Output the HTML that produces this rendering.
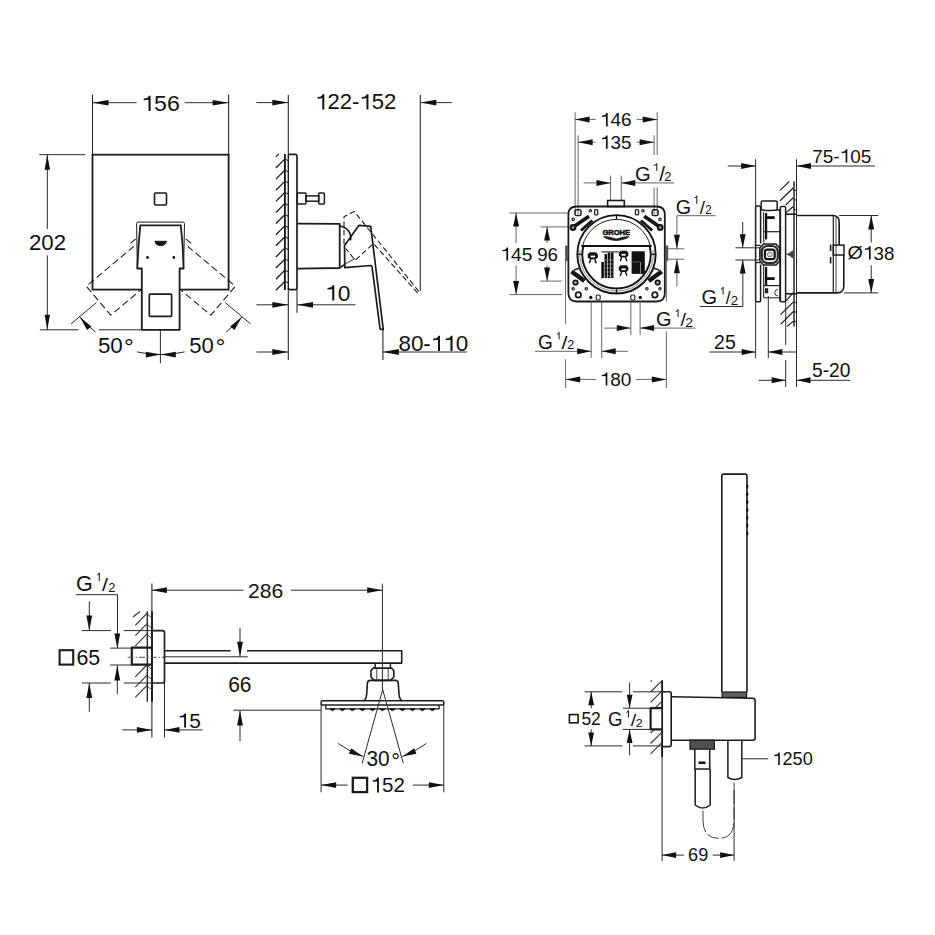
<!DOCTYPE html>
<html><head><meta charset="utf-8"><style>
html,body{margin:0;padding:0;background:#fff;}
svg{display:block;}
text{font-family:"Liberation Sans",sans-serif;}
</style></head><body>
<svg width="935" height="935" viewBox="0 0 935 935">
<rect width="935" height="935" fill="#fff"/>
<line x1="92.5" y1="94.6" x2="92.5" y2="155" stroke="#2a2a2a" stroke-width="1.1"/>
<line x1="228.6" y1="94.6" x2="228.6" y2="155" stroke="#2a2a2a" stroke-width="1.1"/>
<line x1="92.5" y1="102.7" x2="136.5" y2="102.7" stroke="#2a2a2a" stroke-width="1"/>
<line x1="184.5" y1="102.7" x2="228.6" y2="102.7" stroke="#2a2a2a" stroke-width="1"/>
<path d="M92.5 102.7 L108.5 100 L108.5 105.4 Z" fill="#111"/>
<path d="M228.6 102.7 L212.6 105.4 L212.6 100 Z" fill="#111"/>
<path d="M148.52 110.98 L150.6 110.98 L150.6 95.73 L148.93 95.73 L148.12 97.1 L146.5 98.19 L143.7 98.51 L143.7 100.14 L148.52 99.7 Z" fill="#111"/>
<text transform="translate(154.05 110.98) scale(1.067 1)" font-size="21.69" fill="#111">56</text>
<line x1="39.3" y1="154.7" x2="85.5" y2="154.7" stroke="#2a2a2a" stroke-width="1"/>
<line x1="39.8" y1="329.8" x2="78.3" y2="329.8" stroke="#2a2a2a" stroke-width="1"/>
<line x1="98.8" y1="329.8" x2="141.9" y2="329.8" stroke="#2a2a2a" stroke-width="1"/>
<line x1="47.3" y1="154.7" x2="47.3" y2="229" stroke="#2a2a2a" stroke-width="1"/>
<line x1="47.3" y1="255.3" x2="47.3" y2="329.8" stroke="#2a2a2a" stroke-width="1"/>
<path d="M47.3 154.7 L50 169.7 L44.6 169.7 Z" fill="#111"/>
<path d="M47.3 329.8 L44.6 314.8 L50 314.8 Z" fill="#111"/>
<text transform="translate(28.99 250.18) scale(1.025 1)" font-size="21.69" fill="#111">202</text>
<rect x="92.5" y="154.7" width="136.1" height="134.9" fill="#fff" stroke="#1c1c1c" stroke-width="1.8"/>
<rect x="154.5" y="193" width="12" height="12" rx="1" fill="none" stroke="#1c1c1c" stroke-width="1.6"/>
<path d="M135.75 238.81 L130.45 243.39 L133.34 246.84 L86.38 286.24 L110.68 315.2 L157.64 275.79" fill="none" stroke="#1c1c1c" stroke-width="1.1" stroke-linejoin="round" stroke-dasharray="7 3.5"/>
<path d="M185.85 238.81 L191.15 243.39 L188.26 246.84 L235.22 286.24 L210.92 315.2 L163.96 275.79" fill="none" stroke="#1c1c1c" stroke-width="1.1" stroke-linejoin="round" stroke-dasharray="7 3.5"/>
<path d="M137.3 268.5 L136.6 223.6 Q136.6 222.1 138.1 222.1 L183 222.1 Q184.5 222.1 184.5 223.6 L183.6 268.5" fill="#fff" stroke="#1c1c1c" stroke-width="1" stroke-linejoin="round"/>
<path d="M141.8 329.8 L141.8 268.5 L137.3 268.5 L138.6 245 L140.3 225.3 L180.8 225.3 L182.6 245 L183.6 268.5 L179.6 268.5 L179.6 329.8 Z" fill="#fff" stroke="#1c1c1c" stroke-width="1.8" stroke-linejoin="round"/>
<path d="M155 241.3 L166.4 241.3 Q165.8 245.6 160.7 245.6 Q155.6 245.6 155 241.3 Z" fill="#111" stroke="#1c1c1c" stroke-width="1" stroke-linejoin="round"/>
<circle cx="147.5" cy="257.5" r="1.4" fill="#111"/><circle cx="173.8" cy="257.5" r="1.4" fill="#111"/>
<rect x="149.3" y="294.2" width="22.3" height="22.2" rx="0.8" fill="none" stroke="#1c1c1c" stroke-width="1.7"/>
<line x1="96.45" y1="302.59" x2="71.17" y2="323.81" stroke="#2a2a2a" stroke-width="1"/>
<line x1="225.15" y1="302.59" x2="250.43" y2="323.81" stroke="#2a2a2a" stroke-width="1"/>
<path d="M79.6 316.74 A106 106 0 0 0 95.54 332.13" fill="none" stroke="#2a2a2a" stroke-width="1"/>
<path d="M136.96 351.88 A106 106 0 0 0 160.8 354.6" fill="none" stroke="#2a2a2a" stroke-width="1"/>
<path d="M79.6 316.74 L91.39 326.43 L87.1 330.03 Z" fill="#111"/>
<path d="M160.8 354.6 L145.8 357.4 L145.8 351.8 Z" fill="#111"/>
<path d="M242 316.74 A106 106 0 0 1 226.06 332.13" fill="none" stroke="#2a2a2a" stroke-width="1"/>
<path d="M184.64 351.88 A106 106 0 0 1 160.8 354.6" fill="none" stroke="#2a2a2a" stroke-width="1"/>
<path d="M242 316.74 L234.5 330.03 L230.21 326.43 Z" fill="#111"/>
<path d="M160.8 354.6 L175.8 351.8 L175.8 357.4 Z" fill="#111"/>
<line x1="160.4" y1="329.8" x2="160.4" y2="363.2" stroke="#2a2a2a" stroke-width="1"/>
<text transform="translate(97.9 353.48) scale(1.014 1)" font-size="22.11" fill="#111">50</text>
<text transform="translate(124.12 355.05) scale(1.030 1)" font-size="23.93" fill="#111">°</text>
<text x="189.22" y="353.48" font-size="22.11" fill="#111">50</text>
<text transform="translate(215.5 355.05) scale(1.045 1)" font-size="23.93" fill="#111">°</text>
<line x1="288.3" y1="94.9" x2="288.3" y2="359.9" stroke="#2a2a2a" stroke-width="1.1"/>
<line x1="420.3" y1="94.9" x2="420.3" y2="291" stroke="#2a2a2a" stroke-width="1.1"/>
<line x1="256.4" y1="102.6" x2="288.3" y2="102.6" stroke="#2a2a2a" stroke-width="1"/>
<path d="M288.3 102.6 L272.3 105.4 L272.3 99.8 Z" fill="#111"/>
<line x1="420.3" y1="102.6" x2="451.8" y2="102.6" stroke="#2a2a2a" stroke-width="1"/>
<path d="M420.3 102.6 L436.3 99.8 L436.3 105.4 Z" fill="#111"/>
<path d="M322.29 109.48 L324.28 109.48 L324.28 94.23 L322.69 94.23 L321.92 95.6 L320.37 96.69 L317.7 97.01 L317.7 98.64 L322.29 98.2 Z" fill="#111"/>
<text transform="translate(327.57 109.48) scale(1.018 1)" font-size="21.69" fill="#111">22-</text>
<path d="M366.47 109.48 L368.45 109.48 L368.45 94.23 L366.86 94.23 L366.09 95.6 L364.55 96.69 L361.88 97.01 L361.88 98.64 L366.47 98.2 Z" fill="#111"/>
<text transform="translate(371.74 109.48) scale(1.018 1)" font-size="21.69" fill="#111">52</text>
<line x1="284.9" y1="153.9" x2="284.9" y2="290" stroke="#1c1c1c" stroke-width="1.9"/>
<line x1="275.9" y1="290.3" x2="284.5" y2="281.7" stroke="#1c1c1c" stroke-width="1.3"/>
<line x1="285" y1="281.4" x2="288.2" y2="282.9" stroke="#1c1c1c" stroke-width="1"/>
<line x1="275.9" y1="279.18" x2="284.5" y2="270.58" stroke="#1c1c1c" stroke-width="1.3"/>
<line x1="285" y1="270.28" x2="288.2" y2="271.78" stroke="#1c1c1c" stroke-width="1"/>
<line x1="275.9" y1="268.06" x2="284.5" y2="259.46" stroke="#1c1c1c" stroke-width="1.3"/>
<line x1="285" y1="259.16" x2="288.2" y2="260.66" stroke="#1c1c1c" stroke-width="1"/>
<line x1="275.9" y1="256.94" x2="284.5" y2="248.34" stroke="#1c1c1c" stroke-width="1.3"/>
<line x1="285" y1="248.04" x2="288.2" y2="249.54" stroke="#1c1c1c" stroke-width="1"/>
<line x1="275.9" y1="245.82" x2="284.5" y2="237.22" stroke="#1c1c1c" stroke-width="1.3"/>
<line x1="285" y1="236.92" x2="288.2" y2="238.42" stroke="#1c1c1c" stroke-width="1"/>
<line x1="275.9" y1="234.7" x2="284.5" y2="226.1" stroke="#1c1c1c" stroke-width="1.3"/>
<line x1="285" y1="225.8" x2="288.2" y2="227.3" stroke="#1c1c1c" stroke-width="1"/>
<line x1="275.9" y1="223.58" x2="284.5" y2="214.98" stroke="#1c1c1c" stroke-width="1.3"/>
<line x1="285" y1="214.68" x2="288.2" y2="216.18" stroke="#1c1c1c" stroke-width="1"/>
<line x1="275.9" y1="212.46" x2="284.5" y2="203.86" stroke="#1c1c1c" stroke-width="1.3"/>
<line x1="285" y1="203.56" x2="288.2" y2="205.06" stroke="#1c1c1c" stroke-width="1"/>
<line x1="275.9" y1="201.34" x2="284.5" y2="192.74" stroke="#1c1c1c" stroke-width="1.3"/>
<line x1="285" y1="192.44" x2="288.2" y2="193.94" stroke="#1c1c1c" stroke-width="1"/>
<line x1="275.9" y1="190.22" x2="284.5" y2="181.62" stroke="#1c1c1c" stroke-width="1.3"/>
<line x1="285" y1="181.32" x2="288.2" y2="182.82" stroke="#1c1c1c" stroke-width="1"/>
<line x1="275.9" y1="179.1" x2="284.5" y2="170.5" stroke="#1c1c1c" stroke-width="1.3"/>
<line x1="285" y1="170.2" x2="288.2" y2="171.7" stroke="#1c1c1c" stroke-width="1"/>
<line x1="275.9" y1="167.98" x2="284.5" y2="159.38" stroke="#1c1c1c" stroke-width="1.3"/>
<line x1="285" y1="159.08" x2="288.2" y2="160.58" stroke="#1c1c1c" stroke-width="1"/>
<line x1="275.9" y1="156.86" x2="278.86" y2="153.9" stroke="#1c1c1c" stroke-width="1.3"/>
<path d="M288.4 154.4 L295.3 154.4 Q297 154.4 297 156.1 L297 288 Q297 289.6 295.3 289.6 L290 289.6 Q288.4 289.6 288.4 288" fill="none" stroke="#1c1c1c" stroke-width="1.7" stroke-linejoin="round"/>
<line x1="288.4" y1="154.4" x2="288.4" y2="289.6" stroke="#1c1c1c" stroke-width="1.2"/>
<rect x="297.3" y="193.1" width="8.7" height="10.8" rx="0.8" fill="none" stroke="#1c1c1c" stroke-width="1.5"/>
<rect x="306" y="195.9" width="12.7" height="5.3" rx="0" fill="none" stroke="#1c1c1c" stroke-width="1.5"/>
<rect x="318.7" y="193.1" width="5.7" height="10.8" rx="0.8" fill="none" stroke="#1c1c1c" stroke-width="1.5"/>
<path d="M297.3 223.6 L339.7 223.9 L339.7 268 L297.3 268.6" fill="none" stroke="#1c1c1c" stroke-width="1.8" stroke-linejoin="round"/>
<path d="M344 244 L344 216.7 L354.2 211.4 L419.5 292.2 L417.5 292.8 L373.4 243.5 L355.2 260.3 L345.8 248.5" fill="none" stroke="#1c1c1c" stroke-width="1.1" stroke-linejoin="round" stroke-dasharray="5.5 3"/>
<line x1="340.5" y1="266.5" x2="355.2" y2="258.5" stroke="#1c1c1c" stroke-width="0.9"/>
<path d="M339.7 225.8 Q352 229 350.6 240.5" fill="none" stroke="#1c1c1c" stroke-width="1.6" stroke-linejoin="round"/>
<path d="M344.5 245.6 L359 225.3 L370.7 226.4 L383.3 329.7 L380.1 329.1 L372.1 267.1 L371 265.5 L344.8 267.6 Z" fill="none" stroke="#1c1c1c" stroke-width="1.7" stroke-linejoin="round"/>
<line x1="339.7" y1="268" x2="344.6" y2="265" stroke="#1c1c1c" stroke-width="1.3"/>
<line x1="256.4" y1="304.8" x2="288.3" y2="304.8" stroke="#2a2a2a" stroke-width="1"/>
<path d="M288.3 304.8 L272.3 307.7 L272.3 301.9 Z" fill="#111"/>
<line x1="297" y1="289.6" x2="297" y2="312.7" stroke="#2a2a2a" stroke-width="1.1"/>
<line x1="297" y1="304.8" x2="355.5" y2="304.8" stroke="#2a2a2a" stroke-width="1"/>
<path d="M297 304.8 L313 301.9 L313 307.7 Z" fill="#111"/>
<path d="M332.24 300.58 L334.29 300.58 L334.29 285.13 L332.65 285.13 L331.85 286.52 L330.26 287.62 L327.5 287.95 L327.5 289.59 L332.24 289.15 Z" fill="#111"/>
<text transform="translate(337.68 300.58) scale(1.037 1)" font-size="21.97" fill="#111">0</text>
<line x1="256.4" y1="352" x2="288.3" y2="352" stroke="#2a2a2a" stroke-width="1"/>
<path d="M288.3 352 L272.3 354.9 L272.3 349.1 Z" fill="#111"/>
<line x1="382.9" y1="330" x2="382.9" y2="359.9" stroke="#2a2a2a" stroke-width="1.1"/>
<line x1="382.9" y1="352" x2="466.6" y2="352" stroke="#2a2a2a" stroke-width="1"/>
<path d="M382.9 352 L398.9 349.1 L398.9 354.9 Z" fill="#111"/>
<text transform="translate(398.39 350.98) scale(1.043 1)" font-size="21.55" fill="#111">80-</text>
<path d="M437.98 350.98 L440 350.98 L440 335.84 L438.39 335.84 L437.6 337.19 L436.03 338.27 L433.31 338.59 L433.31 340.21 L437.98 339.78 Z" fill="#111"/>
<path d="M450.47 350.98 L452.5 350.98 L452.5 335.84 L450.88 335.84 L450.09 337.19 L448.52 338.27 L445.8 338.59 L445.8 340.21 L450.47 339.78 Z" fill="#111"/>
<text transform="translate(455.84 350.98) scale(1.043 1)" font-size="21.55" fill="#111">0</text>
<line x1="575.1" y1="112.2" x2="575.1" y2="214" stroke="#555" stroke-width="0.9"/>
<line x1="578.1" y1="135.3" x2="578.1" y2="214" stroke="#555" stroke-width="0.9"/>
<line x1="657.2" y1="112.2" x2="657.2" y2="155" stroke="#555" stroke-width="0.9"/>
<line x1="657.2" y1="187.5" x2="657.2" y2="214" stroke="#555" stroke-width="0.9"/>
<line x1="654.1" y1="135.3" x2="654.1" y2="155" stroke="#555" stroke-width="0.9"/>
<line x1="654.1" y1="187.5" x2="654.1" y2="214" stroke="#555" stroke-width="0.9"/>
<line x1="575.1" y1="119.4" x2="595.6" y2="119.4" stroke="#555" stroke-width="0.9"/>
<path d="M575.1 119.4 L589.6 116.4 L589.6 122.4 Z" fill="#111"/>
<line x1="636.7" y1="119.4" x2="657.2" y2="119.4" stroke="#555" stroke-width="0.9"/>
<path d="M657.2 119.4 L642.7 122.4 L642.7 116.4 Z" fill="#111"/>
<path d="M605.97 126.41 L607.68 126.41 L607.68 113.04 L606.31 113.04 L605.64 114.24 L604.31 115.19 L602 115.48 L602 116.9 L605.97 116.52 Z" fill="#111"/>
<text x="610.52" y="126.41" font-size="19.01" fill="#111">46</text>
<line x1="578.1" y1="142.2" x2="595.6" y2="142.2" stroke="#555" stroke-width="0.9"/>
<path d="M578.1 142.2 L592.6 139.2 L592.6 145.2 Z" fill="#111"/>
<line x1="636.7" y1="142.2" x2="654.1" y2="142.2" stroke="#555" stroke-width="0.9"/>
<path d="M654.1 142.2 L639.6 145.2 L639.6 139.2 Z" fill="#111"/>
<path d="M605.92 148.81 L607.62 148.81 L607.62 135.44 L606.26 135.44 L605.6 136.64 L604.28 137.59 L602 137.88 L602 139.3 L605.92 138.92 Z" fill="#111"/>
<text transform="translate(610.43 148.81) scale(0.992 1)" font-size="19.01" fill="#111">35</text>
<line x1="610.5" y1="175.6" x2="610.5" y2="200.5" stroke="#555" stroke-width="0.9"/>
<line x1="621.3" y1="175.6" x2="621.3" y2="200.5" stroke="#555" stroke-width="0.9"/>
<line x1="583.6" y1="182.9" x2="610.5" y2="182.9" stroke="#555" stroke-width="0.9"/>
<path d="M610.5 182.9 L596.5 185.9 L596.5 179.9 Z" fill="#111"/>
<line x1="621.3" y1="182.9" x2="674.3" y2="182.9" stroke="#555" stroke-width="0.9"/>
<path d="M621.3 182.9 L635.3 179.9 L635.3 185.9 Z" fill="#111"/>
<text transform="translate(635.09 180.7) scale(0.987 1)" font-size="20.42" fill="#111">G</text>
<path d="M653.7 165.47 Q656.5 164.96 656.8 163.5 L656.8 170.8" fill="none" stroke="#111" stroke-width="1"/>
<text transform="translate(659.2 180.7) scale(1.050 1)" font-size="19.73" fill="#111">/</text>
<text transform="translate(664.36 180.9) scale(0.991 1)" font-size="12.86" fill="#111">2</text>
<line x1="509.4" y1="213" x2="568.4" y2="213" stroke="#555" stroke-width="0.9"/>
<line x1="509.4" y1="294.6" x2="562.4" y2="294.6" stroke="#555" stroke-width="0.9"/>
<line x1="516.1" y1="213" x2="516.1" y2="243" stroke="#555" stroke-width="0.9"/>
<line x1="516.1" y1="265.4" x2="516.1" y2="294.6" stroke="#555" stroke-width="0.9"/>
<path d="M516.1 213 L519.1 226.5 L513.1 226.5 Z" fill="#111"/>
<path d="M516.1 294.6 L513.1 281.1 L519.1 281.1 Z" fill="#111"/>
<line x1="540.5" y1="226.9" x2="568.4" y2="226.9" stroke="#555" stroke-width="0.9"/>
<line x1="540.5" y1="281.1" x2="561.8" y2="281.1" stroke="#555" stroke-width="0.9"/>
<line x1="547.1" y1="226.9" x2="547.1" y2="243" stroke="#555" stroke-width="0.9"/>
<line x1="547.1" y1="265.4" x2="547.1" y2="281.1" stroke="#555" stroke-width="0.9"/>
<path d="M547.1 226.9 L550.1 240.4 L544.1 240.4 Z" fill="#111"/>
<path d="M547.1 281.1 L544.1 267.6 L550.1 267.6 Z" fill="#111"/>
<path d="M506.39 260.61 L508.12 260.61 L508.12 247.56 L506.74 247.56 L506.07 248.73 L504.72 249.66 L502.4 249.94 L502.4 251.33 L506.39 250.96 Z" fill="#111"/>
<text transform="translate(510.98 260.61) scale(1.034 1)" font-size="18.57" fill="#111">45</text>
<text transform="translate(537.16 260.62) scale(1.023 1)" font-size="18.31" fill="#111">96</text>
<line x1="565.6" y1="261" x2="565.6" y2="323.7" stroke="#555" stroke-width="0.9"/>
<line x1="565.6" y1="359.4" x2="565.6" y2="388" stroke="#555" stroke-width="0.9"/>
<line x1="666.4" y1="261" x2="666.4" y2="301.5" stroke="#555" stroke-width="0.9"/>
<line x1="666.4" y1="331.4" x2="666.4" y2="388" stroke="#555" stroke-width="0.9"/>
<line x1="565.6" y1="379.4" x2="596" y2="379.4" stroke="#555" stroke-width="0.9"/>
<path d="M565.6 379.4 L580.1 376.4 L580.1 382.4 Z" fill="#111"/>
<line x1="636" y1="379.4" x2="666.4" y2="379.4" stroke="#555" stroke-width="0.9"/>
<path d="M666.4 379.4 L651.9 382.4 L651.9 376.4 Z" fill="#111"/>
<path d="M605.65 385.61 L607.36 385.61 L607.36 372.54 L605.99 372.54 L605.33 373.72 L604 374.65 L601.7 374.92 L601.7 376.32 L605.65 375.95 Z" fill="#111"/>
<text transform="translate(610.19 385.61) scale(1.022 1)" font-size="18.59" fill="#111">80</text>
<path d="M576.6 206.5 L656.6 206.5 Q664.8 206.5 664.8 214.7 L664.8 293.3 Q664.8 301.5 656.6 301.5 L576.6 301.5 Q568.4 301.5 568.4 293.3 L568.4 214.7 Q568.4 206.5 576.6 206.5 Z" fill="none" stroke="#1c1c1c" stroke-width="1.8" stroke-linejoin="round"/>
<rect x="607.6" y="200.5" width="16.7" height="6" rx="0" fill="none" stroke="#1c1c1c" stroke-width="1.6"/>
<rect x="565.1" y="245.6" width="3.1" height="15.5" fill="#555"/>
<rect x="665" y="245.6" width="3.2" height="15.5" fill="#555"/>
<circle cx="616.5" cy="254.3" r="39.2" fill="none" stroke="#111" stroke-width="1.9"/>
<path d="M582.5 246.1 A35 35 0 0 1 650.5 246.1" fill="none" stroke="#222" stroke-width="1.0"/>
<path d="M583.4 246.1 A34.1 34.1 0 1 0 649.6 246.1" fill="none" stroke="#111" stroke-width="1.9"/>
<path d="M579.95 250 A36.8 36.8 0 1 0 653.05 250" fill="none" stroke="#555" stroke-width="0.7"/>
<line x1="651.3" y1="254.3" x2="655.5" y2="254.3" stroke="#111" stroke-width="1.3"/>
<line x1="616.5" y1="289.1" x2="616.5" y2="293.3" stroke="#111" stroke-width="1.3"/>
<line x1="581.7" y1="254.3" x2="577.5" y2="254.3" stroke="#111" stroke-width="1.3"/>
<line x1="616.5" y1="219.5" x2="616.5" y2="215.3" stroke="#111" stroke-width="1.3"/>
<line x1="581.3" y1="246.1" x2="651.7" y2="246.1" stroke="#111" stroke-width="2"/>
<text transform="translate(602.4 235.4) scale(1.05 1)" font-size="7.2" font-weight="bold" fill="#111" stroke="#111" stroke-width="0.5">GROHE</text>
<path d="M603.5 236.6 Q609 236.6 616.2 239 Q623.4 236.6 629 236.6 Q626 239.6 616.2 240.6 Q606.4 239.6 603.5 236.6 Z" fill="#222" stroke="#1c1c1c" stroke-width="0.8" stroke-linejoin="round"/>
<g transform="translate(588.3 252.3) scale(1.0)"><path d="M1.5 0 L7.5 0 L9.5 2 L9.5 5 L7.5 7 L1.5 7 L-0.5 5 L-0.5 2 Z" fill="#111"/><rect x="2.3" y="3.3" width="4.4" height="1.8" fill="#fff"/><path d="M2.5 7 L1 11 M6.5 7 L8 11" stroke="#111" stroke-width="1.5"/></g>
<g transform="translate(619.3 250.8) scale(0.95)"><path d="M1.5 0 L7.5 0 L9.5 2 L9.5 5 L7.5 7 L1.5 7 L-0.5 5 L-0.5 2 Z" fill="#111"/><rect x="2.3" y="3.3" width="4.4" height="1.8" fill="#fff"/><path d="M2.5 7 L1 11 M6.5 7 L8 11" stroke="#111" stroke-width="1.5"/></g>
<g transform="translate(619.3 265.3) scale(0.95)"><path d="M1.5 0 L7.5 0 L9.5 2 L9.5 5 L7.5 7 L1.5 7 L-0.5 5 L-0.5 2 Z" fill="#111"/><rect x="2.3" y="3.3" width="4.4" height="1.8" fill="#fff"/><path d="M2.5 7 L1 11 M6.5 7 L8 11" stroke="#111" stroke-width="1.5"/></g>
<rect x="601.3" y="262" width="2.6" height="16.1" fill="#111"/>
<rect x="604.5" y="254" width="2.6" height="24.1" fill="#111"/>
<rect x="607.7" y="252.5" width="2.6" height="25.6" fill="#111"/>
<rect x="610.9" y="252.5" width="2.6" height="25.6" fill="#111"/>
<line x1="604.3" y1="260" x2="613.6" y2="260" stroke="#bbb" stroke-width="0.5"/>
<line x1="604.3" y1="264" x2="613.6" y2="264" stroke="#bbb" stroke-width="0.5"/>
<line x1="604.3" y1="268" x2="613.6" y2="268" stroke="#bbb" stroke-width="0.5"/>
<line x1="604.3" y1="272" x2="613.6" y2="272" stroke="#bbb" stroke-width="0.5"/>
<line x1="604.3" y1="276" x2="613.6" y2="276" stroke="#bbb" stroke-width="0.5"/>
<rect x="601.3" y="251.3" width="17.7" height="1.2" fill="#333"/>
<rect x="631.6" y="251.3" width="13.2" height="22.6" fill="#111"/>
<line x1="640.5" y1="262" x2="640.5" y2="273.5" stroke="#aaa" stroke-width="0.8"/>
<line x1="632.5" y1="262" x2="640" y2="262" stroke="#888" stroke-width="0.6"/>
<line x1="572.5" y1="227.5" x2="589" y2="216.2" stroke="#151515" stroke-width="3.6"/>
<line x1="581" y1="230.5" x2="592.3" y2="220.5" stroke="#151515" stroke-width="3"/>
<circle cx="573" cy="227.5" r="2.4" fill="#888" stroke="#151515" stroke-width="2"/>
<circle cx="573.2" cy="219.4" r="1.2" fill="none" stroke="#222" stroke-width="1.2"/>
<rect x="575" y="209.8" width="6" height="5.8" rx="1.6" fill="none" stroke="#222" stroke-width="1.5"/>
<circle cx="590.3" cy="210.8" r="1.2" fill="none" stroke="#222" stroke-width="1.2"/>
<rect x="594.6" y="209.7" width="3.2" height="5.2" rx="1" fill="none" stroke="#222" stroke-width="1.3"/>
<line x1="571.5" y1="271.5" x2="584.5" y2="281" stroke="#151515" stroke-width="4.5"/>
<line x1="574" y1="270" x2="580" y2="268" stroke="#222" stroke-width="1.5"/>
<circle cx="575.5" cy="282.5" r="2.3" fill="#999" stroke="#151515" stroke-width="1.6"/>
<circle cx="573.2" cy="288.8" r="1.2" fill="none" stroke="#222" stroke-width="1.2"/>
<circle cx="586.3" cy="288.8" r="1.2" fill="none" stroke="#222" stroke-width="1.2"/>
<circle cx="578.3" cy="294.9" r="2.7" fill="none" stroke="#1a1a1a" stroke-width="1.8"/>
<line x1="660.7" y1="227.5" x2="644.2" y2="216.2" stroke="#151515" stroke-width="3.6"/>
<line x1="652.2" y1="230.5" x2="640.9" y2="220.5" stroke="#151515" stroke-width="3"/>
<circle cx="660.2" cy="227.5" r="2.4" fill="#888" stroke="#151515" stroke-width="2"/>
<circle cx="660" cy="219.4" r="1.2" fill="none" stroke="#222" stroke-width="1.2"/>
<rect x="652.2" y="209.8" width="6" height="5.8" rx="1.6" fill="none" stroke="#222" stroke-width="1.5"/>
<circle cx="642.9" cy="210.8" r="1.2" fill="none" stroke="#222" stroke-width="1.2"/>
<rect x="635.4" y="209.7" width="3.2" height="5.2" rx="1" fill="none" stroke="#222" stroke-width="1.3"/>
<line x1="661.7" y1="271.5" x2="648.7" y2="281" stroke="#151515" stroke-width="4.5"/>
<line x1="659.2" y1="270" x2="653.2" y2="268" stroke="#222" stroke-width="1.5"/>
<circle cx="657.7" cy="282.5" r="2.3" fill="#999" stroke="#151515" stroke-width="1.6"/>
<circle cx="660" cy="288.8" r="1.2" fill="none" stroke="#222" stroke-width="1.2"/>
<circle cx="646.9" cy="288.8" r="1.2" fill="none" stroke="#222" stroke-width="1.2"/>
<circle cx="654.9" cy="294.9" r="2.7" fill="none" stroke="#1a1a1a" stroke-width="1.8"/>
<circle cx="590.8" cy="297.5" r="1.7" fill="#111"/><circle cx="640.3" cy="297.5" r="1.7" fill="#111"/>
<rect x="596.2" y="295" width="4" height="5" rx="1.2" fill="none" stroke="#222" stroke-width="1.2"/><rect x="630.8" y="295" width="4" height="5" rx="1.2" fill="none" stroke="#222" stroke-width="1.2"/>
<line x1="591.2" y1="301.5" x2="591.2" y2="358" stroke="#555" stroke-width="0.9"/>
<line x1="601.7" y1="301.5" x2="601.7" y2="358" stroke="#555" stroke-width="0.9"/>
<line x1="535" y1="351.3" x2="591.2" y2="351.3" stroke="#555" stroke-width="0.9"/>
<path d="M591.2 351.3 L577.2 354.3 L577.2 348.3 Z" fill="#111"/>
<line x1="601.7" y1="351.3" x2="628" y2="351.3" stroke="#555" stroke-width="0.9"/>
<path d="M601.7 351.3 L615.7 348.3 L615.7 354.3 Z" fill="#111"/>
<text transform="translate(538.05 349.21) scale(0.982 1)" font-size="19.44" fill="#111">G</text>
<path d="M557 334.26 Q558.8 333.78 559.1 332.4 L559.1 339.3" fill="none" stroke="#111" stroke-width="1"/>
<text transform="translate(561.5 349.21) scale(1.117 1)" font-size="19.18" fill="#111">/</text>
<text transform="translate(567.27 349.4) scale(1.008 1)" font-size="12.43" fill="#111">2</text>
<line x1="630.8" y1="301.5" x2="630.8" y2="335" stroke="#555" stroke-width="0.9"/>
<line x1="640.1" y1="301.5" x2="640.1" y2="335" stroke="#555" stroke-width="0.9"/>
<line x1="604" y1="328.1" x2="630.8" y2="328.1" stroke="#555" stroke-width="0.9"/>
<path d="M630.8 328.1 L616.8 331.1 L616.8 325.1 Z" fill="#111"/>
<line x1="640.1" y1="328.1" x2="695.5" y2="328.1" stroke="#555" stroke-width="0.9"/>
<path d="M640.1 328.1 L654.1 325.1 L654.1 331.1 Z" fill="#111"/>
<text transform="translate(656.1 326.3) scale(1.007 1)" font-size="19.86" fill="#111">G</text>
<path d="M675.7 311.52 Q677.8 311 678.1 309.5 L678.1 317" fill="none" stroke="#111" stroke-width="1"/>
<text transform="translate(680.5 326.31) scale(1.024 1)" font-size="19.18" fill="#111">/</text>
<text transform="translate(685.3 326.5) scale(1.186 1)" font-size="11.86" fill="#111">2</text>
<line x1="668.2" y1="248.8" x2="684.3" y2="248.8" stroke="#555" stroke-width="0.9"/>
<line x1="668.2" y1="259.2" x2="684.3" y2="259.2" stroke="#555" stroke-width="0.9"/>
<line x1="676.9" y1="215.7" x2="676.9" y2="248.8" stroke="#555" stroke-width="0.9"/>
<path d="M676.9 248.8 L673.9 234.8 L679.9 234.8 Z" fill="#111"/>
<line x1="676.9" y1="259.2" x2="676.9" y2="286.6" stroke="#555" stroke-width="0.9"/>
<path d="M676.9 259.2 L679.9 273.2 L673.9 273.2 Z" fill="#111"/>
<line x1="676.9" y1="215.7" x2="715.6" y2="215.7" stroke="#555" stroke-width="0.9"/>
<text transform="translate(675.72 213.5) scale(0.992 1)" font-size="19.86" fill="#111">G</text>
<path d="M694.7 197.96 Q696.5 197.4 696.8 195.8 L696.8 203.8" fill="none" stroke="#111" stroke-width="1"/>
<text x="699.8" y="213.51" font-size="18.64" fill="#111">/</text>
<text transform="translate(705.33 213.7) scale(0.930 1)" font-size="12.29" fill="#111">2</text>
<line x1="755.6" y1="159.2" x2="755.6" y2="206" stroke="#2a2a2a" stroke-width="1"/>
<line x1="727.7" y1="166" x2="755.6" y2="166" stroke="#2a2a2a" stroke-width="1"/>
<path d="M755.6 166 L741.1 169 L741.1 163 Z" fill="#111"/>
<line x1="796.5" y1="159.2" x2="796.5" y2="387" stroke="#2a2a2a" stroke-width="1"/>
<line x1="796.5" y1="166" x2="874.9" y2="166" stroke="#2a2a2a" stroke-width="1"/>
<path d="M796.5 166 L811 163 L811 169 Z" fill="#111"/>
<text transform="translate(812.15 162.61) scale(1.005 1)" font-size="18.87" fill="#111">75-</text>
<path d="M845.59 162.61 L847.3 162.61 L847.3 149.34 L845.93 149.34 L845.27 150.53 L843.94 151.48 L841.64 151.76 L841.64 153.17 L845.59 152.8 Z" fill="#111"/>
<text transform="translate(850.13 162.61) scale(1.005 1)" font-size="18.87" fill="#111">05</text>
<line x1="794" y1="181.4" x2="794" y2="326.4" stroke="#333" stroke-width="1.6"/>
<line x1="780" y1="190.4" x2="789.3" y2="181.4" stroke="#1c1c1c" stroke-width="1.2"/>
<line x1="780" y1="200.7" x2="793.4" y2="187.8" stroke="#1c1c1c" stroke-width="1.2"/>
<line x1="785.7" y1="205.2" x2="793.4" y2="197.5" stroke="#1c1c1c" stroke-width="1.2"/>
<line x1="785.7" y1="212.9" x2="793.4" y2="206.5" stroke="#1c1c1c" stroke-width="1.2"/>
<line x1="794" y1="189.8" x2="796.5" y2="190.8" stroke="#1c1c1c" stroke-width="1"/>
<line x1="794" y1="199.4" x2="796.5" y2="200.4" stroke="#1c1c1c" stroke-width="1"/>
<line x1="794" y1="209.2" x2="796.5" y2="210.2" stroke="#1c1c1c" stroke-width="1"/>
<line x1="787.1" y1="326.5" x2="793.4" y2="321.1" stroke="#1c1c1c" stroke-width="1.2"/>
<line x1="780.6" y1="324.3" x2="793.4" y2="311.5" stroke="#1c1c1c" stroke-width="1.2"/>
<line x1="780.6" y1="314.7" x2="793.4" y2="301.9" stroke="#1c1c1c" stroke-width="1.2"/>
<line x1="786" y1="300.8" x2="793.4" y2="292.6" stroke="#1c1c1c" stroke-width="1.2"/>
<line x1="794" y1="311.4" x2="796.5" y2="312.4" stroke="#1c1c1c" stroke-width="1"/>
<line x1="794" y1="321.1" x2="796.5" y2="322.1" stroke="#1c1c1c" stroke-width="1"/>
<line x1="794" y1="301.8" x2="796.5" y2="302.8" stroke="#1c1c1c" stroke-width="1"/>
<path d="M755.6 301.7 L755.6 207.2 Q755.6 206 756.8 206 L759.4 206 Q760.6 206 760.6 207.2 L760.6 243.5" fill="none" stroke="#1c1c1c" stroke-width="1.5" stroke-linejoin="round"/>
<path d="M760.6 264.5 L760.6 300.5 Q760.6 301.7 759.4 301.7 L755.6 301.7" fill="none" stroke="#1c1c1c" stroke-width="1.5" stroke-linejoin="round"/>
<line x1="755.6" y1="245.4" x2="760.6" y2="245.4" stroke="#1c1c1c" stroke-width="1.2"/>
<line x1="755.6" y1="262.6" x2="760.6" y2="262.6" stroke="#1c1c1c" stroke-width="1.2"/>
<path d="M761.2 210 L761.2 202.2 Q761.2 201 762.4 201 L776 201 Q777.2 201 777.2 202.2 L777.2 210" fill="none" stroke="#1c1c1c" stroke-width="1.5" stroke-linejoin="round"/>
<path d="M760.6 209.8 Q770 211.2 780.4 209.8" fill="none" stroke="#1c1c1c" stroke-width="1.4" stroke-linejoin="round"/>
<rect x="780.4" y="206.4" width="5.2" height="95.3" rx="1" fill="none" stroke="#1c1c1c" stroke-width="1.5"/>
<line x1="763.7" y1="212" x2="763.7" y2="242.6" stroke="#1c1c1c" stroke-width="1.1"/>
<line x1="763.7" y1="265.7" x2="763.7" y2="297.8" stroke="#1c1c1c" stroke-width="1.1"/>
<line x1="779.8" y1="210" x2="779.8" y2="301.7" stroke="#1c1c1c" stroke-width="1"/>
<rect x="765" y="213.1" width="2.2" height="26.3" fill="#111"/>
<rect x="765" y="216.2" width="9.7" height="2.8" fill="#111"/>
<rect x="765" y="267" width="2.2" height="18" fill="#111"/>
<rect x="765" y="277.2" width="9.7" height="2.8" fill="#111"/>
<line x1="763.7" y1="231.7" x2="779.8" y2="231.7" stroke="#1c1c1c" stroke-width="1.2"/>
<line x1="763.7" y1="285.6" x2="779.8" y2="285.6" stroke="#1c1c1c" stroke-width="1.2"/>
<line x1="763.7" y1="297.8" x2="779.8" y2="297.8" stroke="#1c1c1c" stroke-width="1"/>
<rect x="765" y="288.2" width="3.2" height="5.1" fill="#222"/>
<path d="M778 289.5 A3 3 0 1 0 778 296" fill="none" stroke="#333" stroke-width="1"/>
<path d="M763.5 244 L776 244 L779.7 248 L779.7 261 L776 265 L763.5 265 L759.9 261 L759.9 248 Z" fill="#fff" stroke="#1a1a1a" stroke-width="1.6"/>
<rect x="761.8" y="246" width="16" height="17" rx="5.5" fill="none" stroke="#2a2a2a" stroke-width="2.2"/>
<rect x="764.9" y="249.7" width="9.8" height="9.5" rx="2.5" fill="none" stroke="#111" stroke-width="2.2"/>
<rect x="767.6" y="252.3" width="4.4" height="4.3" rx="1.2" fill="#ddd" stroke="#555" stroke-width="0.8"/>
<line x1="735.4" y1="247.8" x2="760" y2="247.8" stroke="#2a2a2a" stroke-width="1"/>
<line x1="735.4" y1="260" x2="760" y2="260" stroke="#2a2a2a" stroke-width="1"/>
<line x1="742.7" y1="222" x2="742.7" y2="247.8" stroke="#2a2a2a" stroke-width="1"/>
<path d="M742.7 247.8 L739.7 234.3 L745.7 234.3 Z" fill="#111"/>
<line x1="742.8" y1="260" x2="742.8" y2="306.5" stroke="#2a2a2a" stroke-width="1"/>
<path d="M742.7 260 L745.7 273.5 L739.7 273.5 Z" fill="#111"/>
<line x1="700" y1="306.5" x2="742.8" y2="306.5" stroke="#2a2a2a" stroke-width="1"/>
<text transform="translate(701.4 304.4) scale(1.007 1)" font-size="19.86" fill="#111">G</text>
<path d="M721 289.2 Q722.8 288.68 723.1 287.2 L723.1 294.6" fill="none" stroke="#111" stroke-width="1"/>
<text transform="translate(725.8 304.41) scale(0.894 1)" font-size="19.18" fill="#111">/</text>
<text transform="translate(730.63 304.6) scale(1.117 1)" font-size="12" fill="#111">2</text>
<line x1="785.6" y1="214.2" x2="796.5" y2="214.2" stroke="#1c1c1c" stroke-width="1.6"/>
<line x1="785.6" y1="293.8" x2="796.5" y2="293.8" stroke="#1c1c1c" stroke-width="1.6"/>
<path d="M786 254.3 L790 252.6 L792 250.8 L793.5 250.5 L793.5 258.5 L792 258 L790 256.2 Z" fill="#444"/>
<path d="M796.5 215.5 L833.3 215.5 Q839.2 216 839.2 222 L839.2 245.1" fill="none" stroke="#1c1c1c" stroke-width="1.6" stroke-linejoin="round"/>
<path d="M796.5 292.9 L838 292.9 Q843.8 292.4 843.8 286 L843.8 255" fill="none" stroke="#1c1c1c" stroke-width="1.6" stroke-linejoin="round"/>
<line x1="833.3" y1="215.5" x2="833.3" y2="292.9" stroke="#1c1c1c" stroke-width="1.2"/>
<line x1="836" y1="217" x2="836" y2="292" stroke="#444" stroke-width="1"/>
<rect x="833.3" y="245.1" width="10.7" height="9.9" rx="0" fill="none" stroke="#1c1c1c" stroke-width="1.5"/>
<line x1="830.6" y1="244.5" x2="830.6" y2="251" stroke="#1c1c1c" stroke-width="1.6"/>
<line x1="830.6" y1="257" x2="830.6" y2="263.5" stroke="#1c1c1c" stroke-width="1.6"/>
<line x1="839.2" y1="215.5" x2="878.2" y2="215.5" stroke="#2a2a2a" stroke-width="1"/>
<line x1="843.8" y1="292.9" x2="878.2" y2="292.9" stroke="#2a2a2a" stroke-width="1"/>
<line x1="871.2" y1="215.5" x2="871.2" y2="242.5" stroke="#2a2a2a" stroke-width="1"/>
<line x1="871.2" y1="265.3" x2="871.2" y2="292.9" stroke="#2a2a2a" stroke-width="1"/>
<path d="M871.2 215.5 L874.2 229.5 L868.2 229.5 Z" fill="#111"/>
<path d="M871.2 292.9 L868.2 278.9 L874.2 278.9 Z" fill="#111"/>
<text transform="translate(847.51 259.24) scale(1.064 1)" font-size="18.52" fill="#111">Ø</text>
<path d="M869 259.51 L870.68 259.51 L870.68 246.14 L869.33 246.14 L868.68 247.34 L867.37 248.29 L865.1 248.58 L865.1 250 L869 249.62 Z" fill="#111"/>
<text transform="translate(873.47 259.51) scale(0.985 1)" font-size="19.01" fill="#111">38</text>
<line x1="755.6" y1="301.7" x2="755.6" y2="358.2" stroke="#2a2a2a" stroke-width="1"/>
<line x1="768.3" y1="296" x2="768.3" y2="358.2" stroke="#2a2a2a" stroke-width="1"/>
<line x1="709.6" y1="352" x2="755.6" y2="352" stroke="#2a2a2a" stroke-width="1"/>
<path d="M755.6 352 L741.6 355 L741.6 349 Z" fill="#111"/>
<line x1="768.3" y1="352" x2="796.5" y2="352" stroke="#2a2a2a" stroke-width="1"/>
<path d="M768.3 352 L782.3 349 L782.3 355 Z" fill="#111"/>
<text transform="translate(714.12 349.31) scale(1.011 1)" font-size="19.3" fill="#111">25</text>
<line x1="785.7" y1="301.7" x2="785.7" y2="345" stroke="#2a2a2a" stroke-width="1"/>
<line x1="785.7" y1="360" x2="785.7" y2="387" stroke="#2a2a2a" stroke-width="1"/>
<line x1="758.7" y1="380.3" x2="785.7" y2="380.3" stroke="#2a2a2a" stroke-width="1"/>
<path d="M785.7 380.3 L771.7 383.3 L771.7 377.3 Z" fill="#111"/>
<line x1="796.5" y1="380.3" x2="850.2" y2="380.3" stroke="#2a2a2a" stroke-width="1"/>
<path d="M796.5 380.3 L810.5 377.3 L810.5 383.3 Z" fill="#111"/>
<text transform="translate(812.03 377.21) scale(0.993 1)" font-size="19.3" fill="#111">5-20</text>
<text transform="translate(76.02 591.48) scale(0.992 1)" font-size="21.69" fill="#111">G</text>
<path d="M97.2 575.01 Q99 574.44 99.3 572.8 L99.3 581" fill="none" stroke="#111" stroke-width="1"/>
<text transform="translate(101.9 591.01) scale(1.117 1)" font-size="19.18" fill="#111">/</text>
<text transform="translate(108.15 591.7) scale(1.009 1)" font-size="12.86" fill="#111">2</text>
<line x1="75.7" y1="594.7" x2="117.5" y2="594.7" stroke="#2a2a2a" stroke-width="1"/>
<line x1="117.5" y1="594.7" x2="117.5" y2="648.5" stroke="#2a2a2a" stroke-width="1"/>
<path d="M117.3 648.5 L114.4 633.5 L120.2 633.5 Z" fill="#111"/>
<line x1="117.3" y1="665.4" x2="117.3" y2="694.2" stroke="#2a2a2a" stroke-width="1"/>
<path d="M117.3 665.4 L120.2 680.4 L114.4 680.4 Z" fill="#111"/>
<line x1="110.1" y1="648.1" x2="131.8" y2="648.1" stroke="#2a2a2a" stroke-width="1"/>
<line x1="110.1" y1="665" x2="131.8" y2="665" stroke="#2a2a2a" stroke-width="1"/>
<line x1="89.3" y1="601.3" x2="89.3" y2="630.6" stroke="#2a2a2a" stroke-width="1"/>
<path d="M89.3 630.6 L86.4 615.6 L92.2 615.6 Z" fill="#111"/>
<line x1="89.3" y1="683" x2="89.3" y2="711.8" stroke="#2a2a2a" stroke-width="1"/>
<path d="M89.3 683 L92.2 698 L86.4 698 Z" fill="#111"/>
<line x1="82" y1="630.6" x2="110.9" y2="630.6" stroke="#2a2a2a" stroke-width="1"/>
<line x1="123.7" y1="630.6" x2="152" y2="630.6" stroke="#2a2a2a" stroke-width="1"/>
<line x1="82" y1="683" x2="110.9" y2="683" stroke="#2a2a2a" stroke-width="1"/>
<line x1="123.7" y1="683" x2="152" y2="683" stroke="#2a2a2a" stroke-width="1"/>
<rect x="59.6" y="650.2" width="13.6" height="14.4" rx="0" fill="none" stroke="#1c1c1c" stroke-width="2.1"/>
<text x="76.43" y="664.89" font-size="21.41" fill="#111">65</text>
<line x1="151.9" y1="583.5" x2="151.9" y2="737.6" stroke="#2a2a2a" stroke-width="1.1"/>
<line x1="152" y1="611.2" x2="152" y2="701.8" stroke="#1c1c1c" stroke-width="1.9"/>
<line x1="147.3" y1="611.2" x2="147.3" y2="701.8" stroke="#1c1c1c" stroke-width="1.3"/>
<line x1="135.3" y1="625.3" x2="147.3" y2="613" stroke="#333" stroke-width="1.1"/>
<line x1="147.3" y1="614" x2="152" y2="618" stroke="#333" stroke-width="0.9"/>
<line x1="135.3" y1="635.6" x2="147.3" y2="623.3" stroke="#333" stroke-width="1.1"/>
<line x1="147.3" y1="624.3" x2="152" y2="628.3" stroke="#333" stroke-width="0.9"/>
<line x1="135.3" y1="645.9" x2="147.3" y2="633.6" stroke="#333" stroke-width="1.1"/>
<line x1="147.3" y1="634.6" x2="152" y2="638.6" stroke="#333" stroke-width="0.9"/>
<line x1="135.3" y1="676.8" x2="147.3" y2="664.5" stroke="#333" stroke-width="1.1"/>
<line x1="147.3" y1="665.5" x2="152" y2="669.5" stroke="#333" stroke-width="0.9"/>
<line x1="135.3" y1="687.1" x2="147.3" y2="674.8" stroke="#333" stroke-width="1.1"/>
<line x1="147.3" y1="675.8" x2="152" y2="679.8" stroke="#333" stroke-width="0.9"/>
<line x1="135.3" y1="697.4" x2="147.3" y2="685.1" stroke="#333" stroke-width="1.1"/>
<line x1="147.3" y1="686.1" x2="152" y2="690.1" stroke="#333" stroke-width="0.9"/>
<line x1="133" y1="617" x2="140" y2="611.5" stroke="#333" stroke-width="1.1"/>
<path d="M152 647.6 L131.8 647.6 L131.8 664.7 L152 664.7" fill="none" stroke="#1c1c1c" stroke-width="2.2" stroke-linejoin="round"/>
<line x1="127.6" y1="657.3" x2="165" y2="657.3" stroke="#555" stroke-width="1" stroke-dasharray="6 2 1.5 2"/>
<path d="M152 630.6 L162.5 630.6 Q164.5 630.6 164.5 632.6 L164.5 681 Q164.5 683 162.5 683 L152 683" fill="none" stroke="#1c1c1c" stroke-width="1.7" stroke-linejoin="round"/>
<line x1="164.5" y1="683" x2="164.5" y2="737.6" stroke="#2a2a2a" stroke-width="1"/>
<line x1="164.5" y1="650.7" x2="230.6" y2="650.7" stroke="#1c1c1c" stroke-width="1.6"/>
<line x1="247" y1="650.7" x2="402" y2="650.7" stroke="#1c1c1c" stroke-width="1.6"/>
<line x1="164.5" y1="663.1" x2="402" y2="663.1" stroke="#1c1c1c" stroke-width="1.6"/>
<line x1="165" y1="656.8" x2="247.8" y2="656.8" stroke="#2a2a2a" stroke-width="1"/>
<line x1="401.7" y1="650.7" x2="401.7" y2="663.1" stroke="#1c1c1c" stroke-width="1.6"/>
<line x1="151.9" y1="590.2" x2="243.5" y2="590.2" stroke="#2a2a2a" stroke-width="1"/>
<path d="M151.9 590.2 L166.9 587.3 L166.9 593.1 Z" fill="#111"/>
<line x1="290.9" y1="590.2" x2="382.2" y2="590.2" stroke="#2a2a2a" stroke-width="1"/>
<path d="M382.2 590.2 L367.2 593.1 L367.2 587.3 Z" fill="#111"/>
<text x="248.04" y="598.49" font-size="21.13" fill="#111">286</text>
<line x1="382.4" y1="583.6" x2="382.4" y2="690" stroke="#2a2a2a" stroke-width="1"/>
<line x1="240" y1="628.2" x2="240" y2="656.8" stroke="#2a2a2a" stroke-width="1"/>
<path d="M240 656.8 L237.1 641.8 L242.9 641.8 Z" fill="#111"/>
<line x1="240" y1="710.4" x2="240" y2="741.2" stroke="#2a2a2a" stroke-width="1"/>
<path d="M240 710.4 L242.9 725.4 L237.1 725.4 Z" fill="#111"/>
<line x1="233.4" y1="710.2" x2="321.1" y2="710.2" stroke="#2a2a2a" stroke-width="1"/>
<text transform="translate(228.15 691.88) scale(0.943 1)" font-size="22.25" fill="#111">66</text>
<line x1="122.4" y1="729.9" x2="151.9" y2="729.9" stroke="#2a2a2a" stroke-width="1"/>
<path d="M151.9 729.9 L136.9 732.8 L136.9 727 Z" fill="#111"/>
<line x1="164.5" y1="729.9" x2="202.4" y2="729.9" stroke="#2a2a2a" stroke-width="1"/>
<path d="M164.5 729.9 L179.5 727 L179.5 732.8 Z" fill="#111"/>
<path d="M184.15 727.5 L186.03 727.5 L186.03 713.54 L184.53 713.54 L183.79 714.79 L182.33 715.79 L179.8 716.08 L179.8 717.57 L184.15 717.18 Z" fill="#111"/>
<text transform="translate(189.15 727.5) scale(1.053 1)" font-size="19.86" fill="#111">5</text>
<line x1="375.1" y1="663" x2="375.1" y2="668.2" stroke="#1c1c1c" stroke-width="1.5"/>
<line x1="390.4" y1="663" x2="390.4" y2="668.2" stroke="#1c1c1c" stroke-width="1.5"/>
<path d="M371 670.5 L373.2 668.1 L391.6 668.1 L393.8 670.5 L393.8 677 L390.5 680.4 L374.3 680.4 L371 677 Z" fill="none" stroke="#1c1c1c" stroke-width="1.6" stroke-linejoin="round"/>
<line x1="376.8" y1="668.5" x2="376.8" y2="679.5" stroke="#444" stroke-width="1"/>
<line x1="388.2" y1="668.5" x2="388.2" y2="679.5" stroke="#444" stroke-width="1"/>
<path d="M363.5 700.8 Q366.3 699.5 366.7 694 L367.4 683.2 Q367.7 680.4 370.5 680.4 L395.3 680.4 Q398.1 680.4 398.3 683.2 L399 694 Q399.4 699.5 402.2 700.8" fill="none" stroke="#1c1c1c" stroke-width="1.6" stroke-linejoin="round"/>
<path d="M322.6 700.7 L442.3 700.7 Q443.8 700.7 443.8 702.2 L443.8 703.5 Q443.8 705 442.3 705 L322.6 705 Q321.1 705 321.1 703.5 L321.1 702.2 Q321.1 700.7 322.6 700.7 Z" fill="none" stroke="#1c1c1c" stroke-width="1.5" stroke-linejoin="round"/>
<path d="M325.8 705 L325.8 708.8 L439.1 708.8 L439.1 705" fill="none" stroke="#1c1c1c" stroke-width="1.3" stroke-linejoin="round"/>
<path d="M329.8 708.8 Q332.4 712.6 335 708.8 Z" fill="#111" stroke="#111" stroke-width="0.8"/>
<path d="M339.8 708.8 Q342.4 712.6 345 708.8 Z" fill="#111" stroke="#111" stroke-width="0.8"/>
<path d="M349.8 708.8 Q352.4 712.6 355 708.8 Z" fill="#111" stroke="#111" stroke-width="0.8"/>
<path d="M359.8 708.8 Q362.4 712.6 365 708.8 Z" fill="#111" stroke="#111" stroke-width="0.8"/>
<path d="M369.8 708.8 Q372.4 712.6 375 708.8 Z" fill="#111" stroke="#111" stroke-width="0.8"/>
<path d="M379.8 708.8 Q382.4 712.6 385 708.8 Z" fill="#111" stroke="#111" stroke-width="0.8"/>
<path d="M389.8 708.8 Q392.4 712.6 395 708.8 Z" fill="#111" stroke="#111" stroke-width="0.8"/>
<path d="M399.8 708.8 Q402.4 712.6 405 708.8 Z" fill="#111" stroke="#111" stroke-width="0.8"/>
<path d="M409.8 708.8 Q412.4 712.6 415 708.8 Z" fill="#111" stroke="#111" stroke-width="0.8"/>
<path d="M419.8 708.8 Q422.4 712.6 425 708.8 Z" fill="#111" stroke="#111" stroke-width="0.8"/>
<path d="M429.8 708.8 Q432.4 712.6 435 708.8 Z" fill="#111" stroke="#111" stroke-width="0.8"/>
<line x1="321.1" y1="704" x2="321.1" y2="792.3" stroke="#2a2a2a" stroke-width="1"/>
<line x1="443.8" y1="704" x2="443.8" y2="792.3" stroke="#2a2a2a" stroke-width="1"/>
<line x1="382.7" y1="689.6" x2="362.2" y2="763.2" stroke="#2a2a2a" stroke-width="1"/>
<line x1="382.7" y1="689.6" x2="403.3" y2="763.2" stroke="#2a2a2a" stroke-width="1"/>
<path d="M338.2 743.5 Q350 752 363 756.4" fill="none" stroke="#2a2a2a" stroke-width="1" stroke-linejoin="round"/>
<path d="M426.4 743.5 Q414.6 752 402.4 756.4" fill="none" stroke="#2a2a2a" stroke-width="1" stroke-linejoin="round"/>
<path d="M363 756.4 L348.97 753.65 L351.22 748.3 Z" fill="#111"/>
<path d="M402.4 756.4 L414.18 748.3 L416.43 753.65 Z" fill="#111"/>
<text transform="translate(366.47 766.19) scale(0.975 1)" font-size="21.41" fill="#111">30</text>
<text transform="translate(391.27 768.65) scale(0.925 1)" font-size="23.93" fill="#111">°</text>
<line x1="321.1" y1="785.1" x2="347.7" y2="785.1" stroke="#2a2a2a" stroke-width="1"/>
<path d="M321.1 785.1 L336.1 782.2 L336.1 788 Z" fill="#111"/>
<line x1="412.7" y1="785.1" x2="443.8" y2="785.1" stroke="#2a2a2a" stroke-width="1"/>
<path d="M443.8 785.1 L428.8 788 L428.8 782.2 Z" fill="#111"/>
<rect x="352.8" y="777.8" width="14.3" height="14.3" rx="0" fill="none" stroke="#1c1c1c" stroke-width="2.3"/>
<path d="M377.08 792.39 L378.93 792.39 L378.93 777.54 L377.45 777.54 L376.73 778.87 L375.29 779.92 L372.8 780.24 L372.8 781.83 L377.08 781.4 Z" fill="#111"/>
<text transform="translate(382 792.39) scale(0.974 1)" font-size="21.13" fill="#111">52</text>
<path d="M721.8 692 L721.8 476 Q721.8 474.1 723.7 474.1 L745.1 474.1 Q747 474.1 747 476 L747 692" fill="none" stroke="#1c1c1c" stroke-width="1.6" stroke-linejoin="round"/>
<path d="M747 484.5 Q749.2 486.5 747 488.5 Z" fill="#111" stroke="#111" stroke-width="1"/>
<path d="M747 492.3 Q749.2 494.3 747 496.3 Z" fill="#111" stroke="#111" stroke-width="1"/>
<path d="M747 500.1 Q749.2 502.1 747 504.1 Z" fill="#111" stroke="#111" stroke-width="1"/>
<path d="M747 507.9 Q749.2 509.9 747 511.9 Z" fill="#111" stroke="#111" stroke-width="1"/>
<path d="M747 515.7 Q749.2 517.7 747 519.7 Z" fill="#111" stroke="#111" stroke-width="1"/>
<path d="M747 523.5 Q749.2 525.5 747 527.5 Z" fill="#111" stroke="#111" stroke-width="1"/>
<path d="M747 531.3 Q749.2 533.3 747 535.3 Z" fill="#111" stroke="#111" stroke-width="1"/>
<rect x="722.1" y="692" width="24.5" height="5.4" rx="0" fill="#606060" stroke="#1c1c1c" stroke-width="1.2"/>
<line x1="662.1" y1="680.3" x2="662.1" y2="757.3" stroke="#1c1c1c" stroke-width="1.9"/>
<line x1="662.1" y1="757.3" x2="662.1" y2="860.9" stroke="#2a2a2a" stroke-width="1"/>
<line x1="650.6" y1="681.7" x2="651.8" y2="680.5" stroke="#333" stroke-width="1.1"/>
<line x1="650.6" y1="692" x2="661.3" y2="681.3" stroke="#333" stroke-width="1.1"/>
<line x1="650.6" y1="702.3" x2="661.3" y2="691.6" stroke="#333" stroke-width="1.1"/>
<line x1="650.6" y1="712.6" x2="661.3" y2="701.9" stroke="#333" stroke-width="1.1"/>
<line x1="650.6" y1="722.9" x2="661.3" y2="712.2" stroke="#333" stroke-width="1.1"/>
<line x1="650.6" y1="733.2" x2="661.3" y2="722.5" stroke="#333" stroke-width="1.1"/>
<line x1="650.6" y1="743.5" x2="661.3" y2="732.8" stroke="#333" stroke-width="1.1"/>
<line x1="650.6" y1="753.8" x2="661.3" y2="743.1" stroke="#333" stroke-width="1.1"/>
<rect x="650.6" y="708.2" width="10.6" height="21.2" fill="#fff"/>
<path d="M662 708.2 L650.6 708.2 L650.6 729.4 L662 729.4" fill="none" stroke="#1c1c1c" stroke-width="2.2" stroke-linejoin="round"/>
<path d="M662.1 691.8 L669.5 691.8 Q671.2 691.8 671.2 693.5 L671.2 745 Q671.2 746.6 669.5 746.6 L662.1 746.6" fill="none" stroke="#1c1c1c" stroke-width="1.6" stroke-linejoin="round"/>
<path d="M671.2 696.8 L753 698.3 Q755.1 698.5 755.1 700.5 L755.1 738.3 Q755.1 740.2 753 740.2 L671.2 740.2" fill="none" stroke="#1c1c1c" stroke-width="1.6" stroke-linejoin="round"/>
<rect x="690" y="740.2" width="24.4" height="9" rx="0" fill="#505050" stroke="#1c1c1c" stroke-width="1.2"/>
<path d="M694.8 749.2 L694.8 769 L709.7 769 L709.7 749.2" fill="none" stroke="#1c1c1c" stroke-width="1.5" stroke-linejoin="round"/>
<rect x="698.5" y="761.5" width="7" height="2.5" fill="#111"/>
<path d="M695.2 769 L695.2 805 Q702.7 811 710.2 805 L710.2 769" fill="none" stroke="#1c1c1c" stroke-width="1.5" stroke-linejoin="round"/>
<path d="M727.9 740.2 L727.9 777.5 Q734.8 781.5 741.8 777.5 L741.8 740.2" fill="none" stroke="#1c1c1c" stroke-width="1.5" stroke-linejoin="round"/>
<path d="M703 810.5 L703 820 Q703 838.4 719 838.4 Q734.1 838.4 734.1 820 L734.1 781.7" fill="none" stroke="#444" stroke-width="1" stroke-linejoin="round" stroke-dasharray="22 3 12 3"/>
<line x1="734.1" y1="790" x2="734.1" y2="860.9" stroke="#2a2a2a" stroke-width="1"/>
<line x1="741.8" y1="758.8" x2="768.3" y2="758.8" stroke="#2a2a2a" stroke-width="1"/>
<path d="M778.17 765.12 L779.8 765.12 L779.8 752.55 L778.49 752.55 L777.86 753.67 L776.59 754.57 L774.4 754.84 L774.4 756.18 L778.17 755.82 Z" fill="#111"/>
<text transform="translate(782.5 765.12) scale(1.013 1)" font-size="17.89" fill="#111">250</text>
<line x1="662.1" y1="855.1" x2="683.9" y2="855.1" stroke="#2a2a2a" stroke-width="1"/>
<path d="M662.1 855.1 L676.1 852.2 L676.1 858 Z" fill="#111"/>
<line x1="712.7" y1="855.1" x2="734.1" y2="855.1" stroke="#2a2a2a" stroke-width="1"/>
<path d="M734.1 855.1 L720.1 858 L720.1 852.2 Z" fill="#111"/>
<text transform="translate(688.09 861.03) scale(1.038 1)" font-size="17.46" fill="#111">69</text>
<line x1="584.7" y1="691.8" x2="622.4" y2="691.8" stroke="#2a2a2a" stroke-width="1"/>
<line x1="632.9" y1="691.8" x2="662" y2="691.8" stroke="#2a2a2a" stroke-width="1"/>
<line x1="584.7" y1="745.9" x2="622.4" y2="745.9" stroke="#2a2a2a" stroke-width="1"/>
<line x1="632.9" y1="745.9" x2="662" y2="745.9" stroke="#2a2a2a" stroke-width="1"/>
<line x1="591.2" y1="691.8" x2="591.2" y2="708.2" stroke="#2a2a2a" stroke-width="1"/>
<path d="M591.2 691.8 L594.1 705.3 L588.3 705.3 Z" fill="#111"/>
<line x1="591.2" y1="729.4" x2="591.2" y2="745.9" stroke="#2a2a2a" stroke-width="1"/>
<path d="M591.2 745.9 L588.3 732.4 L594.1 732.4 Z" fill="#111"/>
<rect x="569.4" y="714.6" width="8.7" height="8.2" rx="0" fill="none" stroke="#1c1c1c" stroke-width="1.6"/>
<text x="581.4" y="725.33" font-size="17.46" fill="#111">52</text>
<line x1="629.6" y1="682.4" x2="629.6" y2="708.2" stroke="#2a2a2a" stroke-width="1"/>
<path d="M629.6 708.2 L626.7 694.7 L632.5 694.7 Z" fill="#111"/>
<line x1="629.6" y1="729.4" x2="629.6" y2="755.3" stroke="#2a2a2a" stroke-width="1"/>
<path d="M629.6 729.4 L632.5 742.9 L626.7 742.9 Z" fill="#111"/>
<line x1="622.9" y1="708.2" x2="650.6" y2="708.2" stroke="#2a2a2a" stroke-width="1"/>
<line x1="622.9" y1="729.4" x2="650.6" y2="729.4" stroke="#2a2a2a" stroke-width="1"/>
<text transform="translate(608.07 726.31) scale(0.958 1)" font-size="19.44" fill="#111">G</text>
<path d="M626.4 712.42 Q628.1 711.92 628.4 710.5 L628.4 717.6" fill="none" stroke="#111" stroke-width="1"/>
<text transform="translate(630.8 726.33) scale(1.128 1)" font-size="17.41" fill="#111">/</text>
<text transform="translate(635.67 726.5) scale(1.139 1)" font-size="11" fill="#111">2</text>
</svg></body></html>
